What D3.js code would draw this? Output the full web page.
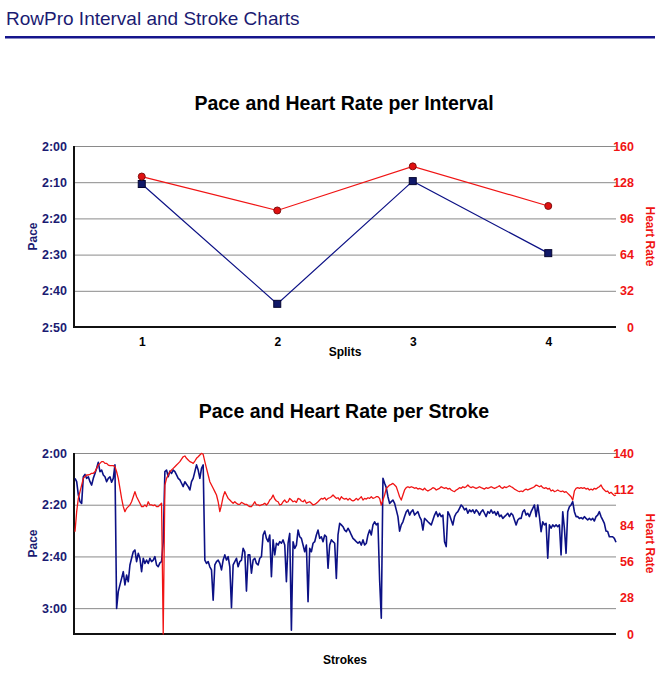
<!DOCTYPE html>
<html>
<head>
<meta charset="utf-8">
<script src="https://cdn.jsdelivr.net/npm/d3@7"></script>
<style>
  body { margin: 0; background: #fff; }
  svg text { font-family: "Liberation Sans", Arial, Helvetica, sans-serif; }
</style>
</head>
<body>
<div id="chart"></div>
<script>
// ---- data ----
var pageTitle = "RowPro Interval and Stroke Charts";

// interval chart
var splits = [1, 2, 3, 4];
var intervalPace = [130.5, 163.6, 129.7, 149.6];   // seconds per 500m
var intervalHR = [133, 103, 142, 107];
var intervalPaceTicks = [120, 130, 140, 150, 160, 170];
var intervalHRTicks = [0, 32, 64, 96, 128, 160];

// stroke chart (one value per sampled stroke)
var strokePace = [
  129.8,131.1,136.2,138.8,139.5,129.2,128.3,129.8,129.2,131.1,
  132.4,129.8,127.9,125.9,123.6,127.2,126.6,128.5,129.2,131.1,
  129.8,129.2,131.3,129.8,124.6,180.1,173.6,171.0,168.5,165.9,
  171.0,167.2,169.8,163.3,160.7,158.2,157.5,162.0,158.8,160.7,
  165.9,160.7,162.7,161.4,162.7,160.7,162.0,161.4,160.1,163.3,
  164.0,162.5,162.0,154.3,127.2,126.6,129.2,127.0,127.9,126.6,
  127.2,128.5,129.8,130.4,131.7,133.0,131.1,132.1,133.0,134.3,
  131.1,129.8,127.2,124.6,126.6,129.8,125.9,124.6,161.4,162.7,
  162.0,164.0,165.2,176.9,163.3,162.0,161.4,162.7,165.2,161.4,
  159.4,161.4,160.1,164.0,179.8,163.3,162.0,160.7,164.0,162.0,
  161.4,156.9,158.2,173.4,159.4,159.4,166.5,161.4,160.7,162.7,
  163.3,160.7,160.1,151.7,150.2,153.0,154.3,151.7,167.8,153.6,
  159.4,154.9,155.6,154.3,154.9,153.6,155.6,169.8,154.9,151.1,
  188.5,154.3,156.9,155.6,149.8,152.4,153.0,155.6,158.2,155.6,
  177.5,156.9,158.2,154.9,154.3,151.7,149.8,153.0,152.4,154.3,
  151.7,152.4,164.6,155.6,153.6,154.3,154.9,168.5,151.7,147.2,
  147.8,148.5,149.8,150.4,149.1,150.2,151.7,153.0,153.6,154.3,
  154.9,154.3,155.6,153.6,155.6,154.9,151.7,149.8,151.7,147.8,
  146.6,147.8,147.2,169.1,183.9,129.8,131.7,133.4,136.9,139.5,
  138.8,138.2,139.5,142.0,144.6,150.2,147.8,146.6,144.6,142.7,
  142.0,144.0,142.7,142.0,144.0,143.3,142.7,144.6,145.9,149.8,
  145.3,145.9,146.6,147.2,147.8,145.9,144.0,142.7,144.6,143.3,
  144.6,144.0,154.3,156.2,142.7,144.0,145.9,147.8,144.6,143.3,
  142.7,141.4,140.1,140.8,142.0,141.4,143.3,142.0,142.7,142.0,
  143.3,142.0,142.7,144.0,142.7,142.0,143.3,144.6,142.7,143.3,
  142.0,143.3,142.7,144.0,142.7,144.6,144.0,145.3,144.6,144.0,
  143.3,144.6,143.3,144.0,145.9,147.8,145.9,145.3,145.3,142.7,
  142.0,144.0,143.3,144.6,142.7,141.4,140.1,144.6,140.1,144.6,
  150.4,146.6,147.8,147.2,160.7,147.8,149.1,147.8,148.5,147.8,
  148.5,147.8,159.4,142.7,149.1,158.8,142.7,140.8,140.1,138.8,
  142.7,144.6,144.6,145.3,145.0,145.5,144.6,145.3,145.9,145.3,
  145.9,145.3,146.3,144.6,144.0,142.7,144.6,145.9,147.2,150.2,
  150.4,152.4,152.4,152.4,153.0,154.5
];
var strokeHR = [
  79.1,94.6,104.9,110.1,115.2,120.4,121.7,123.0,123.0,123.5,
  124.3,124.3,125.5,128.1,130.7,132.0,133.3,133.3,132.0,132.0,
  130.7,130.2,130.2,130.2,129.4,125.5,120.4,112.7,104.9,98.5,
  94.6,97.2,98.5,99.8,102.3,106.2,110.1,106.2,103.6,101.1,
  98.5,98.5,99.8,98.5,102.3,99.8,99.8,99.3,99.8,98.5,
  98.5,99.8,101.1,0,115.2,120.4,123.0,125.5,126.8,128.1,
  129.4,130.7,132.0,133.3,135.3,137.1,137.7,135.9,134.6,133.3,
  132.8,132.0,133.8,135.9,137.1,138.4,139.7,139.0,133.3,128.1,
  123.0,117.8,115.2,112.7,110.1,107.5,102.3,94.6,99.8,106.2,
  110.1,107.5,104.9,103.6,102.3,101.1,102.3,101.1,100.3,100.3,
  101.8,101.1,100.3,100.3,99.3,98.5,98.5,100.3,102.3,99.8,
  99.8,99.3,99.8,100.3,101.1,99.8,101.1,103.6,104.9,107.5,
  104.4,102.9,102.3,99.8,100.3,102.3,103.6,101.8,102.3,104.9,
  103.6,102.3,102.9,101.8,104.9,104.4,102.9,102.3,103.6,101.1,
  101.8,102.3,101.1,99.8,100.3,101.1,102.3,103.6,104.9,104.4,
  105.4,103.6,104.9,105.4,106.2,107.5,106.2,104.9,105.4,103.6,
  106.2,104.9,104.4,104.9,103.6,104.9,103.6,102.9,103.6,104.9,
  103.6,104.9,106.2,103.6,104.9,104.4,105.4,104.9,106.2,104.9,
  105.4,106.2,106.2,104.9,99.8,103.6,107.5,112.7,113.9,115.2,
  115.7,116.5,115.2,113.9,110.1,106.2,103.6,107.5,111.4,113.2,
  113.9,113.2,113.9,113.4,112.7,113.2,112.1,112.7,112.1,111.4,
  112.7,111.4,110.6,111.4,112.1,113.2,112.7,111.4,112.1,112.7,
  113.9,113.2,112.7,113.2,112.1,112.7,111.4,110.6,110.1,111.4,
  112.1,113.2,112.7,113.9,113.2,113.9,115.2,113.9,113.2,113.9,
  113.2,112.7,113.2,113.9,113.2,112.7,112.1,113.2,112.7,113.2,
  113.9,113.2,112.7,113.2,113.9,114.7,113.2,112.7,113.9,113.2,
  113.9,114.7,113.9,113.2,112.1,111.4,110.6,110.1,110.6,110.1,
  111.4,112.1,111.4,112.1,112.7,113.2,113.9,115.2,114.7,113.9,
  114.7,113.2,112.7,113.2,112.1,112.7,110.6,111.4,110.1,110.6,
  111.4,110.6,110.1,110.6,109.6,110.1,108.8,107.5,106.2,103.6,
  110.6,112.7,113.2,112.7,113.2,112.7,113.2,112.1,112.7,111.4,
  112.1,111.4,112.7,112.1,113.2,113.9,115.2,112.7,111.4,110.1,
  110.6,108.8,109.6,108.3,107.0,107.5
];
var strokePaceTicks = [120, 140, 160, 180];
var strokeHRTicks = [0, 28, 56, 84, 112, 140];

// ---- drawing ----
var W = 671, H = 684;
var NAVY = "#1b1b72", BLUE = "#0c1185", RED = "#f01414";
var X0 = 74, X1 = 616;

var svg = d3.select("#chart").append("svg").attr("width", W).attr("height", H);

svg.append("text").attr("x", 6).attr("y", 25)
  .attr("font-size", 19).attr("fill", NAVY).text(pageTitle);
svg.append("rect").attr("x", 5).attr("y", 36).attr("width", 650).attr("height", 2.5)
  .attr("fill", "#15158c");

function paceFmt(s) {
  var m = Math.floor(s / 60), r = Math.round(s - m * 60);
  return m + ":" + (r < 10 ? "0" : "") + r;
}

// frame, grid and both y axes of one panel
function panel(o) {
  var g = svg.append("g");
  g.append("text").attr("x", 344).attr("y", o.titleY).attr("text-anchor", "middle")
    .attr("font-size", 19.5).attr("font-weight", "bold").attr("fill", "#000").text(o.title);

  var left = g.append("g").attr("transform", "translate(" + X0 + ",0)")
    .call(d3.axisLeft(o.yPace).tickValues(o.paceTicks).tickFormat(paceFmt)
      .tickSize(-(X1 - X0)).tickPadding(7));
  left.select(".domain").remove();
  left.selectAll(".tick line").attr("stroke", "#8a8a8a").attr("stroke-width", 1);
  left.selectAll(".tick text").attr("font-size", 12.5).attr("font-weight", "bold")
    .attr("fill", NAVY).attr("font-family", "Liberation Sans, Arial, sans-serif");

  var right = g.append("g").attr("transform", "translate(" + X1 + ",0)")
    .call(d3.axisRight(o.yHR).tickValues(o.hrTicks).tickSize(0));
  right.select(".domain").remove();
  right.selectAll(".tick text").attr("x", 18).attr("text-anchor", "end")
    .attr("font-size", 12.5).attr("font-weight", "bold").attr("fill", RED)
    .attr("font-family", "Liberation Sans, Arial, sans-serif");

  var yTop = o.yPace.range()[0], yBot = o.yPace.range()[1];
  g.append("line").attr("x1", X0).attr("x2", X1).attr("y1", yBot).attr("y2", yBot)
    .attr("stroke", "#111").attr("stroke-width", 2);
  g.append("line").attr("x1", X0).attr("x2", X0).attr("y1", yTop).attr("y2", yBot + 1)
    .attr("stroke", "#111").attr("stroke-width", 2);

  var cy = (yTop + yBot) / 2;
  g.append("text").attr("transform", "translate(37," + cy + ") rotate(-90)")
    .attr("text-anchor", "middle").attr("font-size", 12).attr("font-weight", "bold")
    .attr("fill", NAVY).text("Pace");
  g.append("text").attr("transform", "translate(646," + cy + ") rotate(90)")
    .attr("text-anchor", "middle").attr("font-size", 12).attr("font-weight", "bold")
    .attr("fill", RED).text("Heart Rate");
  g.append("text").attr("x", 345).attr("y", o.xLabelY).attr("text-anchor", "middle")
    .attr("font-size", 12).attr("font-weight", "bold").attr("fill", "#000").text(o.xLabel);
  return g;
}

// --- interval chart ---
var xI = d3.scalePoint().domain(splits).range([X0, X1]).padding(0.5);
var yIP = d3.scaleLinear().domain([120, 170]).range([146, 327]);
var yIH = d3.scaleLinear().domain([0, 160]).range([327, 146]);

var g1 = panel({ title: "Pace and Heart Rate per Interval", titleY: 110,
  yPace: yIP, yHR: yIH, paceTicks: intervalPaceTicks, hrTicks: intervalHRTicks,
  xLabel: "Splits", xLabelY: 356 });

var xa = g1.append("g").attr("transform", "translate(0,327)")
  .call(d3.axisBottom(xI).tickSize(0).tickPadding(10));
xa.select(".domain").remove();
xa.selectAll(".tick text").attr("font-size", 12).attr("font-weight", "bold").attr("fill", "#000")
  .attr("font-family", "Liberation Sans, Arial, sans-serif");

g1.append("path").datum(splits)
  .attr("fill", "none").attr("stroke", BLUE).attr("stroke-width", 1.2)
  .attr("d", d3.line().x(function (d) { return xI(d); })
    .y(function (d, i) { return yIP(intervalPace[i]); }));
g1.append("path").datum(splits)
  .attr("fill", "none").attr("stroke", RED).attr("stroke-width", 1.2)
  .attr("d", d3.line().x(function (d) { return xI(d); })
    .y(function (d, i) { return yIH(intervalHR[i]); }));

g1.selectAll("rect.pm").data(splits).enter().append("rect").attr("class", "pm")
  .attr("x", function (d) { return xI(d) - 3.5; })
  .attr("y", function (d, i) { return yIP(intervalPace[i]) - 3.5; })
  .attr("width", 7).attr("height", 7).attr("fill", "#101868").attr("stroke", "#050530");
g1.selectAll("circle.hm").data(splits).enter().append("circle").attr("class", "hm")
  .attr("cx", function (d) { return xI(d); })
  .attr("cy", function (d, i) { return yIH(intervalHR[i]); })
  .attr("r", 3.5).attr("fill", "#e01010").attr("stroke", "#801010");

// --- stroke chart ---
var xS = d3.scaleLinear().domain([0, strokePace.length - 1]).range([75, 616]);
var ySP = d3.scaleLinear().domain([120, 190]).range([453, 634]);
var ySH = d3.scaleLinear().domain([0, 140]).range([634, 453]);

var g2 = panel({ title: "Pace and Heart Rate per Stroke", titleY: 418,
  yPace: ySP, yHR: ySH, paceTicks: strokePaceTicks, hrTicks: strokeHRTicks,
  xLabel: "Strokes", xLabelY: 664 });

g2.append("path").datum(strokePace)
  .attr("fill", "none").attr("stroke", BLUE).attr("stroke-width", 1.6)
  .attr("stroke-linejoin", "round")
  .attr("d", d3.line().x(function (d, i) { return xS(i); }).y(function (d) { return ySP(d); }));
g2.append("path").datum(strokeHR)
  .attr("fill", "none").attr("stroke", RED).attr("stroke-width", 1.3)
  .attr("stroke-linejoin", "round")
  .attr("d", d3.line().x(function (d, i) { return xS(i); }).y(function (d) { return ySH(d); }));
</script>
</body>
</html>
